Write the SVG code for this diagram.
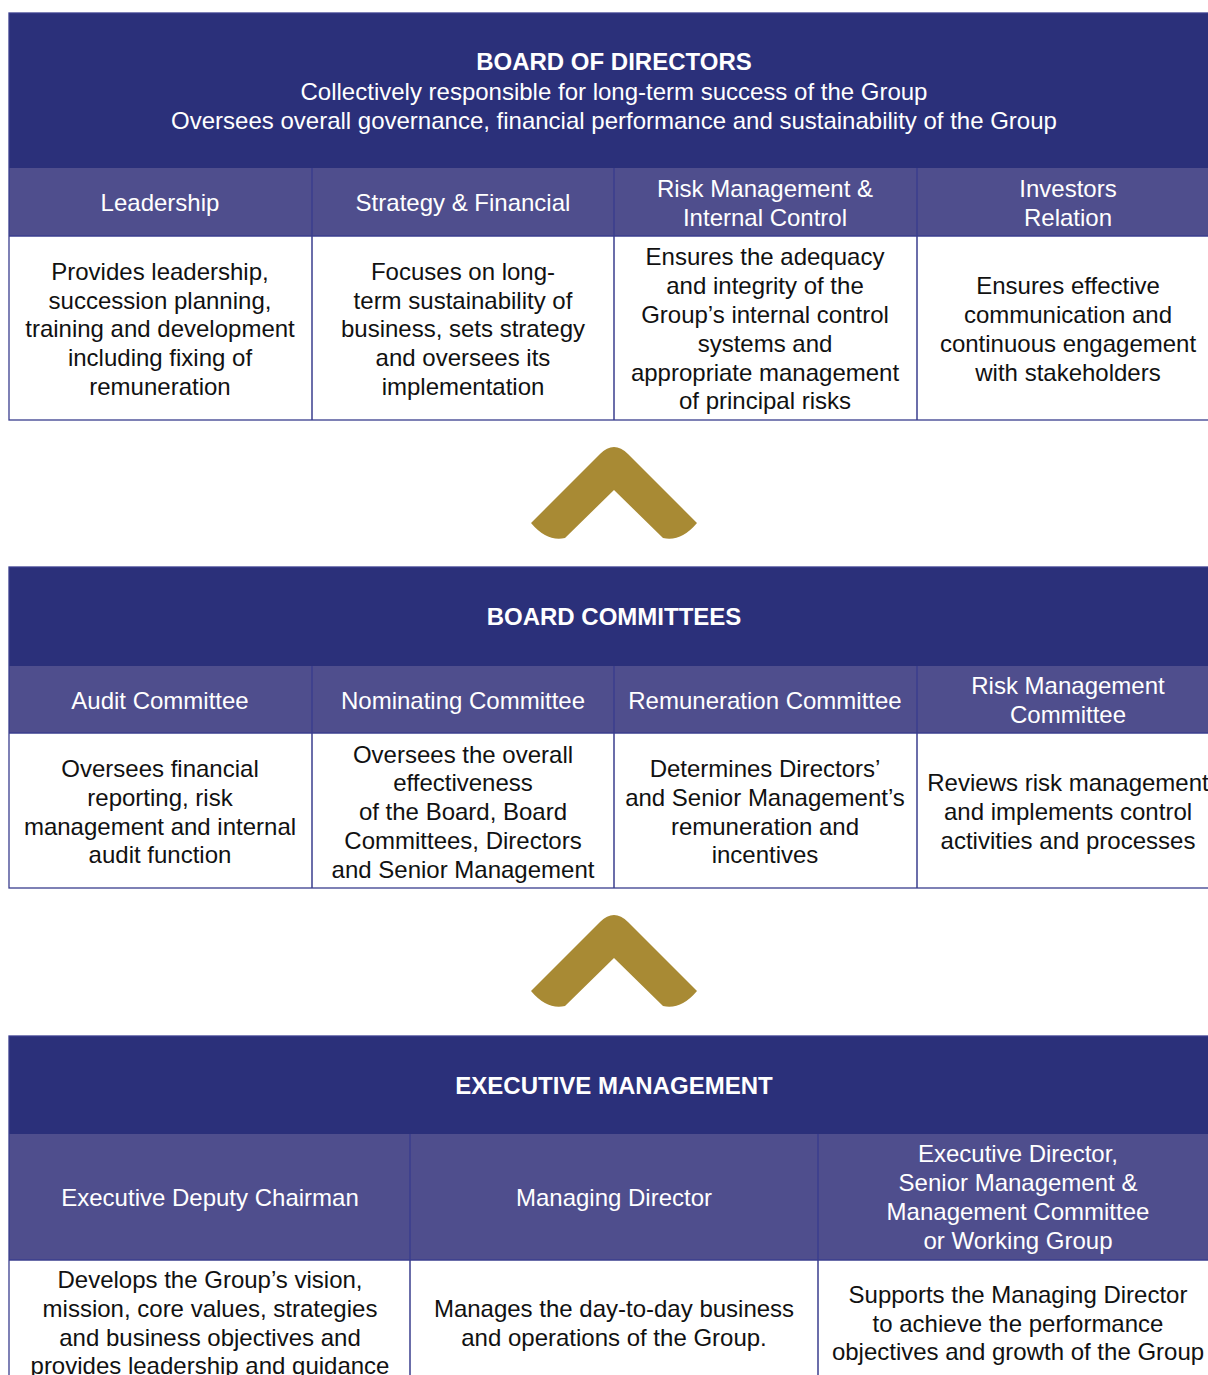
<svg xmlns="http://www.w3.org/2000/svg" width="1208" height="1375" viewBox="0 0 1208 1375">
<style>
  text { font-family: "Liberation Sans", Arial, Helvetica, sans-serif; font-size: 24px; text-anchor: middle; }
  .title { fill: #ffffff; font-weight: bold; }
  .sub { fill: #ffffff; }
  .hd { fill: #ffffff; }
  .bd { fill: #111111; }
  .dark { fill: #2B307A; }
  .head { fill: #4F4E8D; }
  .body { fill: #ffffff; }
  .div { stroke: #3A3E8E; stroke-width: 1.5; fill: none; }
  .frame { stroke: #3A3E8E; stroke-width: 1.3; fill: none; }
  .chev { fill: #A88A34; }
</style>
<defs>
  <path id="chevron" d="M 531 523 L 600 454 Q 614 440 628 454 L 697 523 Q 681 542 663 538 L 614 490 L 565 538 Q 547 542 531 523 Z"/>
</defs>
<rect width="1208" height="1375" fill="#ffffff"/>

<!-- Section 1: Board of Directors -->
<g id="board-of-directors">
  <rect class="dark" x="9" y="13" width="1210" height="155"/>
  <rect class="head" x="9" y="168" width="1210" height="68"/>
  <rect class="body" x="9" y="236" width="1210" height="184"/>
  <line class="div" x1="9" y1="236" x2="1219" y2="236"/>
  <rect class="frame" x="9" y="13" width="1210" height="407"/>
  <line class="div" x1="312" y1="168" x2="312" y2="420"/>
  <line class="div" x1="614" y1="168" x2="614" y2="420"/>
  <line class="div" x1="917" y1="168" x2="917" y2="420"/>
  <text class="title" x="614" y="70">BOARD OF DIRECTORS</text>
  <text class="sub" x="614" y="100">Collectively responsible for long-term success of the Group</text>
  <text class="sub" x="614" y="129">Oversees overall governance, financial performance and sustainability of the Group</text>
  <g id="bod-leadership">
    <text class="hd" x="160" y="211">Leadership</text>
    <text class="bd" x="160"><tspan x="160" y="280">Provides leadership,</tspan><tspan x="160" y="309">succession planning,</tspan><tspan x="160" y="337">training and development</tspan><tspan x="160" y="366">including fixing of</tspan><tspan x="160" y="395">remuneration</tspan></text>
  </g>
  <g id="bod-strategy">
    <text class="hd" x="463" y="211">Strategy &amp; Financial</text>
    <text class="bd" x="463"><tspan x="463" y="280">Focuses on long-</tspan><tspan x="463" y="309">term sustainability of</tspan><tspan x="463" y="337">business, sets strategy</tspan><tspan x="463" y="366">and oversees its</tspan><tspan x="463" y="395">implementation</tspan></text>
  </g>
  <g id="bod-risk">
    <text class="hd" x="765"><tspan x="765" y="197">Risk Management &amp;</tspan><tspan x="765" y="226">Internal Control</tspan></text>
    <text class="bd" x="765"><tspan x="765" y="265">Ensures the adequacy</tspan><tspan x="765" y="294">and integrity of the</tspan><tspan x="765" y="323">Group’s internal control</tspan><tspan x="765" y="352">systems and</tspan><tspan x="765" y="381">appropriate management</tspan><tspan x="765" y="409">of principal risks</tspan></text>
  </g>
  <g id="bod-investors">
    <text class="hd" x="1068"><tspan x="1068" y="197">Investors</tspan><tspan x="1068" y="226">Relation</tspan></text>
    <text class="bd" x="1068"><tspan x="1068" y="294">Ensures effective</tspan><tspan x="1068" y="323">communication and</tspan><tspan x="1068" y="352">continuous engagement</tspan><tspan x="1068" y="381">with stakeholders</tspan></text>
  </g>
</g>

<!-- Section 2: Board Committees -->
<g id="board-committees">
  <rect class="dark" x="9" y="567" width="1210" height="99"/>
  <rect class="head" x="9" y="666" width="1210" height="67"/>
  <rect class="body" x="9" y="733" width="1210" height="155"/>
  <line class="div" x1="9" y1="733" x2="1219" y2="733"/>
  <rect class="frame" x="9" y="567" width="1210" height="321"/>
  <line class="div" x1="312" y1="666" x2="312" y2="888"/>
  <line class="div" x1="614" y1="666" x2="614" y2="888"/>
  <line class="div" x1="917" y1="666" x2="917" y2="888"/>
  <text class="title" x="614" y="625">BOARD COMMITTEES</text>
  <g id="bc-audit">
    <text class="hd" x="160" y="709">Audit Committee</text>
    <text class="bd" x="160"><tspan x="160" y="777">Oversees financial</tspan><tspan x="160" y="806">reporting, risk</tspan><tspan x="160" y="835">management and internal</tspan><tspan x="160" y="863">audit function</tspan></text>
  </g>
  <g id="bc-nominating">
    <text class="hd" x="463" y="709">Nominating Committee</text>
    <text class="bd" x="463"><tspan x="463" y="763">Oversees the overall</tspan><tspan x="463" y="791">effectiveness</tspan><tspan x="463" y="820">of the Board, Board</tspan><tspan x="463" y="849">Committees, Directors</tspan><tspan x="463" y="878">and Senior Management</tspan></text>
  </g>
  <g id="bc-remuneration">
    <text class="hd" x="765" y="709">Remuneration Committee</text>
    <text class="bd" x="765"><tspan x="765" y="777">Determines Directors’</tspan><tspan x="765" y="806">and Senior Management’s</tspan><tspan x="765" y="835">remuneration and</tspan><tspan x="765" y="863">incentives</tspan></text>
  </g>
  <g id="bc-risk">
    <text class="hd" x="1068"><tspan x="1068" y="694">Risk Management</tspan><tspan x="1068" y="723">Committee</tspan></text>
    <text class="bd" x="1068"><tspan x="1068" y="791">Reviews risk management</tspan><tspan x="1068" y="820">and implements control</tspan><tspan x="1068" y="849">activities and processes</tspan></text>
  </g>
</g>

<!-- Section 3: Executive Management -->
<g id="executive-management">
  <rect class="dark" x="9" y="1036" width="1210" height="98"/>
  <rect class="head" x="9" y="1134" width="1210" height="126"/>
  <rect class="body" x="9" y="1260" width="1210" height="140"/>
  <line class="div" x1="9" y1="1260" x2="1219" y2="1260"/>
  <rect class="frame" x="9" y="1036" width="1210" height="364"/>
  <line class="div" x1="410" y1="1134" x2="410" y2="1400"/>
  <line class="div" x1="818" y1="1134" x2="818" y2="1400"/>
  <text class="title" x="614" y="1094">EXECUTIVE MANAGEMENT</text>
  <g id="em-deputy-chairman">
    <text class="hd" x="210" y="1206">Executive Deputy Chairman</text>
    <text class="bd" x="210"><tspan x="210" y="1288">Develops the Group’s vision,</tspan><tspan x="210" y="1317">mission, core values, strategies</tspan><tspan x="210" y="1346">and business objectives and</tspan><tspan x="210" y="1374">provides leadership and guidance</tspan></text>
  </g>
  <g id="em-managing-director">
    <text class="hd" x="614" y="1206">Managing Director</text>
    <text class="bd" x="614"><tspan x="614" y="1317">Manages the day-to-day business</tspan><tspan x="614" y="1346">and operations of the Group.</tspan></text>
  </g>
  <g id="em-executive-director">
    <text class="hd" x="1018"><tspan x="1018" y="1162">Executive Director,</tspan><tspan x="1018" y="1191">Senior Management &amp;</tspan><tspan x="1018" y="1220">Management Committee</tspan><tspan x="1018" y="1249">or Working Group</tspan></text>
    <text class="bd" x="1018"><tspan x="1018" y="1303">Supports the Managing Director</tspan><tspan x="1018" y="1332">to achieve the performance</tspan><tspan x="1018" y="1360">objectives and growth of the Group</tspan></text>
  </g>
</g>

<!-- Connectors -->
<g id="connectors">
  <use href="#chevron" class="chev"/>
  <use href="#chevron" class="chev" transform="translate(0,468)"/>
</g>
</svg>
